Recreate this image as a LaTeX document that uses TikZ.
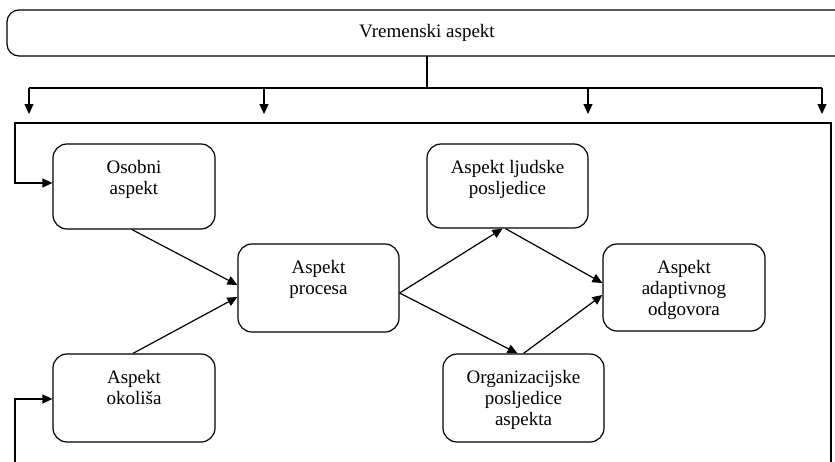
\documentclass[tikz,border=0pt]{standalone}
\usepackage{fontspec}
\setmainfont{Liberation Serif}
\usetikzlibrary{arrows.meta,calc}
\newcommand{\bxtext}[3]{\parbox[c][#2][t]{#1}{\centering\vspace*{15pt}#3\par}}
\begin{document}
\begin{tikzpicture}[x=1pt,y=-1pt,
  box/.style={draw, line width=1.2pt, rounded corners=14pt, inner sep=0pt, font=\fontsize{19}{21}\selectfont},
  toptext/.style={inner sep=0pt, font=\fontsize{19}{21}\selectfont},
  ln/.style={line width=1.2pt},
  arr/.style={line width=1.2pt, -{Triangle[length=10pt,width=9pt]}}]
\useasboundingbox (0,0) rectangle (835,461);
% top box (runs off the right edge)
\node[toptext] (top) at (427,33) {Vremenski aspekt};
\coordinate (tbr1) at (860,10);
\coordinate (tbl1) at (7,10);
\coordinate (tbl2) at (7,56);
\coordinate (tbr2) at (860,56);
\draw[ln, rounded corners=12pt] (tbr1) -- (tbl1) -- (tbl2) -- (tbr2);
% boxes
\node[box] (osobni) at (134,186.5) {\bxtext{162pt}{85pt}{\strut Osobni\\aspekt}};
\node[box] (okolisa) at (134,398) {\bxtext{162pt}{88pt}{\strut Aspekt\\okoliša}};
\node[box] (procesa) at (318.5,288) {\bxtext{161pt}{88pt}{\strut Aspekt\\procesa}};
\node[box] (ljudske) at (507.5,186) {\bxtext{161pt}{84pt}{\strut Aspekt ljudske\\posljedice}};
\node[box] (organiz) at (523.5,398) {\bxtext{161pt}{88pt}{\strut Organizacijske\\posljedice\\aspekta}};
\node[box] (adapt) at (684,287.5) {\bxtext{162pt}{87pt}{\strut Aspekt\\adaptivnog\\odgovora}};
% top distribution
\coordinate (ts) at (427,56);
\coordinate (hj) at (427,88);
\coordinate (hl) at (29,88);
\coordinate (hr) at (822,88);
\coordinate (h2) at (264,88);
\coordinate (h3) at (588,88);
\coordinate (t1) at (29,114);
\coordinate (t2) at (264,114);
\coordinate (t3) at (588,114);
\coordinate (t4) at (822,114);
\draw[ln] (ts) -- (hj);
\draw[ln] (hl) -- (hr);
\draw[arr] (hl) -- (t1);
\draw[arr] (h2) -- (t2);
\draw[arr] (h3) -- (t3);
\draw[arr] (hr) -- (t4);
% frame
\coordinate (fbr) at (831,475);
\coordinate (ftr) at (831,123);
\coordinate (ftl) at (15,123);
\coordinate (fbl) at (15,475);
\draw[arr] (fbr) -- (ftr) -- (ftl) |- ($(osobni.west)+(0,-3.5)$);
\draw[arr] (fbl) |- ($(okolisa.west)+(0,1)$);
% flows
\draw[arr] ($(osobni.south)+(-2,0)$) -- ($(procesa.west)+(0,-3)$);
\draw[arr] ($(okolisa.north)+(-1,0)$) -- ($(procesa.west)+(0,9)$);
\draw[arr] ($(procesa.east)+(0,5)$) -- ($(ljudske.south)+(-5,0)$);
\draw[arr] ($(procesa.east)+(0,5)$) -- ($(organiz.north)+(-6,0)$);
\draw[arr] ($(ljudske.south)+(-2,0)$) -- ($(adapt.west)+(0,-4.5)$);
\draw[arr] ($(organiz.north)+(0,0)$) -- ($(adapt.west)+(0,7.5)$);
\end{tikzpicture}
\end{document}
